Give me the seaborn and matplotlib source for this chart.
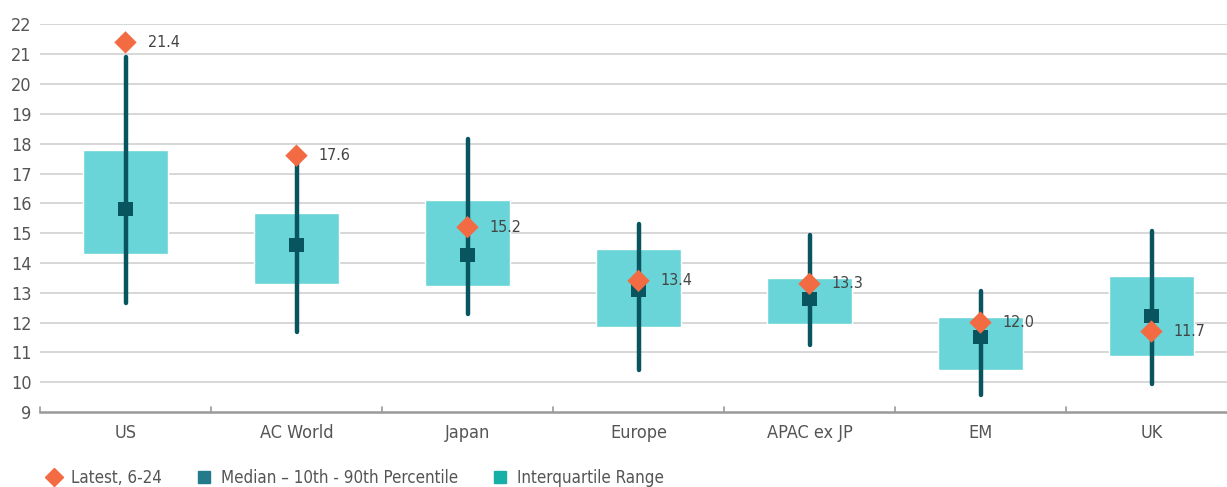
import matplotlib
matplotlib.use("Agg")
import matplotlib.pyplot as plt
from matplotlib import font_manager
from matplotlib.lines import Line2D
import pandas as pd
import seaborn as sns

# Forward P/E ranges by region
regions = ["US", "AC World", "Japan", "Europe", "APAC ex JP", "EM", "UK"]
p10 = [12.65, 11.7, 12.3, 10.4, 11.25, 9.57, 9.94]
p90 = [20.9, 17.5, 18.15, 15.3, 14.95, 13.07, 15.07]
q1 = [14.29, 13.29, 13.22, 11.85, 11.94, 10.4, 10.89]
q3 = [17.78, 15.66, 16.11, 14.46, 13.5, 12.2, 13.56]
median = [15.81, 14.6, 14.27, 13.1, 12.79, 11.52, 12.22]
latest = [21.4, 17.6, 15.2, 13.4, 13.3, 12.0, 11.7]

df = pd.DataFrame({"region": regions, "p10": p10, "p90": p90, "q1": q1,
                   "q3": q3, "median": median, "latest": latest})
df["x"] = range(len(df))

IQR_FILL = "#69D5D8"
DARK = "#08545F"
ORANGE = "#F26B43"
LEG_MED = "#237A8A"
LEG_IQR = "#17B0A6"
TXT = "#555555"

sns.set_theme(style="white")

# prefer a narrow face for the axis text when one is installed
installed = {f.name for f in font_manager.fontManager.ttflist}
narrow = [n for n in ["Liberation Sans Narrow", "DejaVu Sans Condensed"]
          if n in installed]
plt.rcParams["font.family"] = narrow + ["DejaVu Sans"]
plt.rcParams["font.stretch"] = "condensed"

fig = plt.figure(figsize=(12.27, 4.87), dpi=100)
ax = fig.add_axes([40 / 1227, 1 - 412 / 487, 1197 / 1227, (412 - 24.5) / 487])

# interquartile boxes
ax.bar(df["x"], df["q3"] - df["q1"], bottom=df["q1"], width=0.5,
       color=IQR_FILL, zorder=2)
# 10th-90th percentile whiskers
ax.vlines(df["x"], df["p10"], df["p90"], color=DARK, lw=3.2,
          capstyle="round", zorder=3)
# medians
sns.scatterplot(data=df, x="x", y="median", marker="s", s=105, color=DARK,
                edgecolor="none", zorder=4, ax=ax, legend=False)
# latest readings
sns.scatterplot(data=df, x="x", y="latest", marker="D", s=130, color=ORANGE,
                edgecolor="none", zorder=5, ax=ax, legend=False)
for xi, v in zip(df["x"], df["latest"]):
    ax.annotate(f"{v:.1f}", (xi, v), xytext=(16, 0), textcoords="offset points",
                va="center", ha="left", fontsize=11.5, color="#444444",
                zorder=6)

ax.set_xlim(-0.5, len(df) - 0.5)
ax.set_ylim(9, 22)
ax.set_yticks(range(9, 23))
ax.set_xticks(df["x"])
ax.set_xticklabels(df["region"])
ax.set_xlabel("")
ax.set_ylabel("")
ax.tick_params(axis="y", length=0, labelsize=13, labelcolor=TXT, pad=6)
ax.tick_params(axis="x", length=0, labelsize=13, labelcolor=TXT, pad=9)
for g in range(10, 23):
    ax.axhline(g, color="#D4D4D4", lw=1.3, zorder=1)
for b in range(len(df) + 1):
    ax.plot([b - 0.5, b - 0.5], [9, 9.18], color="#999999", lw=1.2,
            clip_on=False, zorder=1)
for s in ["top", "right", "left"]:
    ax.spines[s].set_visible(False)
ax.spines["bottom"].set_color("#999999")
ax.spines["bottom"].set_linewidth(1.8)

handles = [
    Line2D([], [], marker="D", ls="none", color=ORANGE, markersize=9),
    Line2D([], [], marker="s", ls="none", color=LEG_MED, markersize=8),
    Line2D([], [], marker="s", ls="none", color=LEG_IQR, markersize=8),
]
labels = ["Latest, 6-24", "Median \u2013 10th - 90th Percentile",
          "Interquartile Range"]
leg = fig.legend(handles, labels, loc="center left",
                 bbox_to_anchor=(30 / 1227, 1 - 478 / 487), ncol=3,
                 frameon=False, fontsize=12.2, handletextpad=0.5,
                 columnspacing=2.0, handlelength=1.0)
for t in leg.get_texts():
    t.set_color(TXT)

fig.savefig("out.png", dpi=100)
